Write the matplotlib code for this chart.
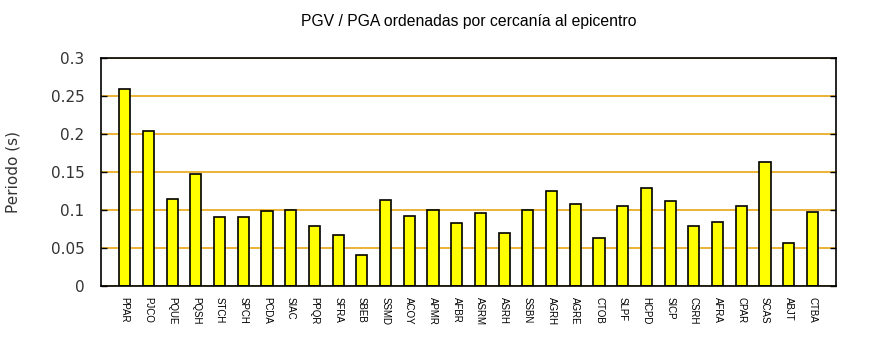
import numpy as np
import matplotlib.pyplot as plt

estaciones = ['PPAR', 'PJCO', 'PQUE', 'PQSH', 'STCH', 'SPCH', 'PCDA', 'SIAC',
              'PPQR', 'SFRA', 'SBEB', 'SSMD', 'ACOY', 'APMR', 'AFBR', 'ASRM',
              'ASRH', 'SSBN', 'AGRH', 'AGRE', 'CTOB', 'SLPF', 'HCPD', 'SICP',
              'CSRH', 'AFRA', 'CPAR', 'SCAS', 'ABJT', 'CTBA']
periodo = [0.260, 0.205, 0.115, 0.148, 0.091, 0.091, 0.099, 0.101,
           0.080, 0.067, 0.041, 0.113, 0.093, 0.101, 0.083, 0.096,
           0.070, 0.101, 0.126, 0.108, 0.063, 0.106, 0.130, 0.112,
           0.080, 0.085, 0.106, 0.164, 0.057, 0.098]
yticks = [0, 0.05, 0.1, 0.15, 0.2, 0.25, 0.3]
ytick_labels = ['0', '0.05', '0.1', '0.15', '0.2', '0.25', '0.3']

fig = plt.figure(figsize=(8.7, 3.5), dpi=100)
ax = fig.add_axes([0.1161, 0.182, 0.845, 0.6514])

x = np.arange(len(estaciones))
ax.bar(x, periodo, width=0.47, color='#ffff00', edgecolor='black',
       linewidth=1.2, zorder=3)

ax.set_xlim(-1, len(estaciones))
ax.set_ylim(0, 0.3)

ax.set_yticks(yticks)
ax.set_yticklabels(ytick_labels, fontsize=11, color='#333333')
ax.yaxis.set_ticks_position('both')
ax.tick_params(axis='y', direction='in', length=4, width=1, pad=12)

ax.set_xticks(x)
ax.set_xticklabels(estaciones, rotation=-90, fontsize=7,
                   family='Liberation Sans')
ax.tick_params(axis='x', length=0, pad=8)

ax.grid(axis='y', color='#e69f00', linewidth=1.1, zorder=0)
ax.set_axisbelow(True)
for s in ax.spines.values():
    s.set_linewidth(1.2)
    s.set_zorder(4)

ax.set_ylabel('Periodo (s)', fontsize=11, color='#333333', labelpad=22)
ax.set_title('PGV / PGA ordenadas por cercanía al epicentro',
             family='Liberation Sans', fontsize=11.3, pad=23)

fig.savefig('out.png', dpi=100)
